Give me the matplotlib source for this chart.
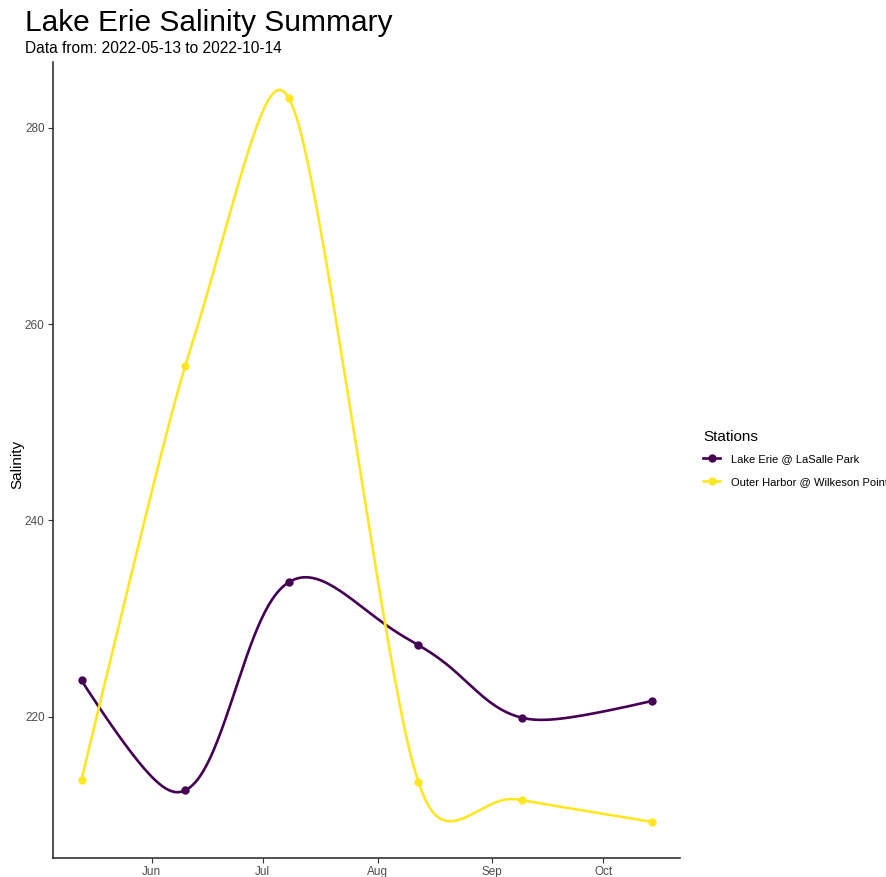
import numpy as np
import pandas as pd
import matplotlib
matplotlib.use('Agg')
from matplotlib import pyplot as plt
import matplotlib.dates as mdates

plt.rcParams['font.family'] = ['Liberation Sans', 'DejaVu Sans']

dates = pd.to_datetime(['2022-05-13', '2022-06-10', '2022-07-08',
                        '2022-08-12', '2022-09-09', '2022-10-14'])
stations = ['Lake Erie @ LaSalle Park', 'Outer Harbor @ Wilkeson Point']
lasalle = [223.7, 212.5, 233.7, 227.3, 219.9, 221.6]
wilkeson = [213.6, 255.7, 283.0, 213.4, 211.5, 209.3]
colors = ['#440154', '#FDE725']
shapes = [-0.5, -0.38]  # spline tension per line


# x-spline (open, ends repeated)
def f_blend(num, den):
    p = 2 * den * den
    u = num / den
    return u**3 * (10 - p + (2 * p - 15) * u + (6 - p) * u * u)


def g_blend(u, q):
    return u * (q + u * (2 * q + u * (8 - 12 * q + u * (14 * q - 11 + u * (4 - 5 * q)))))


def h_blend(u, q):
    return u * (q + u * (2 * q + u * u * (-2 * q - u * q)))


def xspline(x, y, shape=-0.5, n=80):
    x = np.asarray(x, float)
    y = np.asarray(y, float)
    m = len(x)
    s = np.full(m, shape)
    s[0] = s[-1] = 0
    t = np.linspace(0, 1, n)
    xs, ys = [], []
    for i in range(m - 1):
        i0, i3 = max(i - 1, 0), min(i + 2, m - 1)
        s1, s2 = s[i], s[i + 1]
        if s1 < 0:
            a0 = h_blend(-t, -s1)
            a2 = g_blend(t, -s1)
        else:
            a0 = np.zeros_like(t)
            a2 = f_blend(t, 1.0)
        if s2 < 0:
            a1 = g_blend(1 - t, -s2)
            a3 = h_blend(t - 1, -s2)
        else:
            a1 = f_blend(t - 1, -1.0)
            a3 = np.zeros_like(t)
        w = a0 + a1 + a2 + a3
        xs.append((a0 * x[i0] + a1 * x[i] + a2 * x[i + 1] + a3 * x[i3]) / w)
        ys.append((a0 * y[i0] + a1 * y[i] + a2 * y[i + 1] + a3 * y[i3]) / w)
    return np.concatenate(xs), np.concatenate(ys)


fig = plt.figure(figsize=(8.86, 8.77), dpi=100)
ax = fig.add_axes([53 / 886, 19 / 877, 627 / 886, 796 / 877])

xnum = mdates.date2num(dates)
for vals, name, c, sh in zip([lasalle, wilkeson], stations, colors, shapes):
    sx, sy = xspline(xnum, vals, sh)
    ax.plot(sx, sy, color=c, lw=1.9)
    ax.plot(xnum, vals, 'o', color=c, ms=5)
    ax.plot([], [], '-o', color=c, lw=1.9, ms=5, label=name)

span = xnum[-1] - xnum[0]
ax.set_xlim(xnum[0] - 0.05 * span, xnum[-1] + 0.05 * span)
allv = lasalle + wilkeson
yr = max(allv) - min(allv)
ax.set_ylim(min(allv) - 0.05 * yr, max(allv) + 0.05 * yr)

ax.xaxis.set_major_locator(mdates.MonthLocator())
ax.xaxis.set_major_formatter(mdates.DateFormatter('%b'))
ax.set_yticks([220, 240, 260, 280])
ax.tick_params(colors='#333333', labelcolor='#4d4d4d', labelsize=8.5,
               length=3.5, width=0.8, pad=2.5)
for s in ['top', 'right']:
    ax.spines[s].set_visible(False)
for s in ['left', 'bottom']:
    ax.spines[s].set_linewidth(1.1)
    ax.spines[s].set_color('#222222')

fig.text(17 / 886, 1 - 464 / 877, 'Salinity', fontsize=11, rotation=90,
         ha='center', va='center')

fig.text(25 / 886, 1 - 31 / 877, 'Lake Erie Salinity Summary', fontsize=21.5,
         va='baseline', ha='left')
fig.text(25 / 886, 1 - 53 / 877, 'Data from: 2022-05-13 to 2022-10-14', fontsize=11.2,
         va='baseline', ha='left')

fig.text(703 / 886, 1 - 437 / 877, 'Stations', fontsize=11, ha='left', va='center')
leg = fig.legend(loc='upper left', bbox_to_anchor=(703 / 886, 1 - 454 / 877),
                 frameon=False, fontsize=8,
                 handlelength=1.55, handletextpad=0.95, labelspacing=1.2,
                 borderpad=0, borderaxespad=0)

fig.savefig('out.png', dpi=100)
